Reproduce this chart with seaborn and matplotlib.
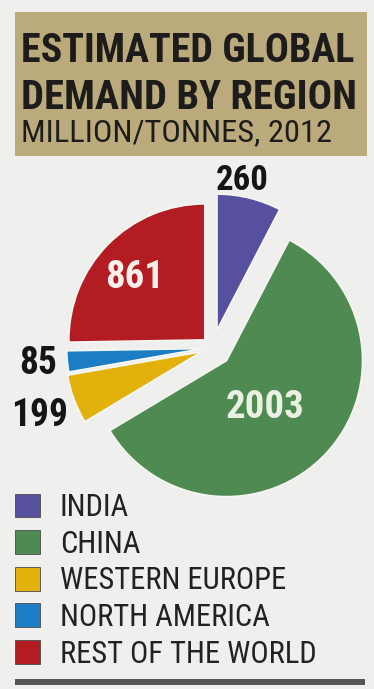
import matplotlib
matplotlib.use("Agg")
import matplotlib.pyplot as plt
import seaborn as sns
from matplotlib.patches import Rectangle, Patch

# ---- data ----
regions = ["INDIA", "CHINA", "WESTERN EUROPE", "NORTH AMERICA", "REST OF THE WORLD"]
demand = [260, 2003, 199, 85, 861]
value_labels = ["260", "2003", "199", "85", "861"]
title_lines = ["ESTIMATED GLOBAL", "DEMAND BY REGION"]
subtitle = "MILLION/TONNES, 2012"

# ---- style ----
sns.set_style("white")
plt.rcParams["font.family"] = ["Roboto Condensed", "Barlow Condensed", "Archivo Narrow", "DejaVu Sans"]

palette = sns.color_palette(["#56509e", "#4f8a52", "#e3b10c", "#1b7ec4", "#b21c22"])
bg = "#efefee"

W, H = 374, 689
fig = plt.figure(figsize=(W / 100, H / 100), dpi=100, facecolor=bg)
ax = fig.add_axes([0, 0, 1, 1])
ax.set_facecolor(bg)
ax.set_xlim(0, W)
ax.set_ylim(0, H)
renderer = fig.canvas.get_renderer()

def Y(py):
    return H - py

def fitted_text(x, py, s, target_w, **kw):
    t = ax.text(x, Y(py), s, fontsize=20, **kw)
    w = t.get_window_extent(renderer=renderer).width
    t.set_fontsize(20 * target_w / w)
    return t

# header box
ax.add_patch(Rectangle((15, Y(156)), 352, 144, facecolor="#bbaa7c", edgecolor="none", zorder=1))
fitted_text(21, 62, title_lines[0], 334, fontweight="bold", color="#1e1c1a", ha="left", va="baseline", zorder=3)
fitted_text(21, 109, title_lines[1], 336, fontweight="bold", color="#1e1c1a", ha="left", va="baseline", zorder=3)
fitted_text(21, 141, subtitle, 311, color="#1e1c1a", ha="left", va="baseline", zorder=3)

# pie
explode = [18, 19, 12, 10, 11]
center = (212.7, Y(347.6))
wedges, _ = ax.pie(demand, colors=palette, startangle=90, counterclock=False,
                   explode=explode, radius=136, center=center,
                   wedgeprops=dict(edgecolor="#f6f6f2", linewidth=1.2))

# value labels (positions in pixels)
label_pos = [(242, 180), (265, 408), (40, 416), (38, 363), (135, 278)]
label_size = [25, 28, 27, 27, 28]
label_col = ["#151515", "#e9f1e2", "#151515", "#151515", "#f7efe9"]
for txt, (px, py), s, c in zip(value_labels, label_pos, label_size, label_col):
    ax.text(px, Y(py), txt, fontsize=s, fontweight="bold", color=c, ha="center", va="center", zorder=5)

# legend font size fitted to the widest label
probe = ax.text(0, 0, regions[-1], fontsize=20)
lw = probe.get_window_extent(renderer=renderer).width
probe.remove()
leg_fs = 20 * 257 / lw
fs_px = leg_fs * 100 / 72
handles = [Patch(facecolor=c, edgecolor="#4a4a4a", linewidth=0.6) for c in palette]
leg = ax.legend(handles, regions, loc="upper left", bbox_to_anchor=(15, Y(493)),
                bbox_transform=ax.transData, frameon=False, fontsize=leg_fs,
                handlelength=25 / fs_px, handleheight=25 / fs_px, handletextpad=20 / fs_px,
                labelspacing=0.25, borderpad=0, borderaxespad=0)
for t in leg.get_texts():
    t.set_color("#222222")

# bottom bar
ax.add_patch(Rectangle((15, Y(685)), 350, 6, facecolor="#555555", edgecolor="none"))

ax.set_xlim(0, W)
ax.set_ylim(0, H)
ax.set_aspect("equal")
ax.axis("off")

fig.savefig("out.png", dpi=100, facecolor=bg)
